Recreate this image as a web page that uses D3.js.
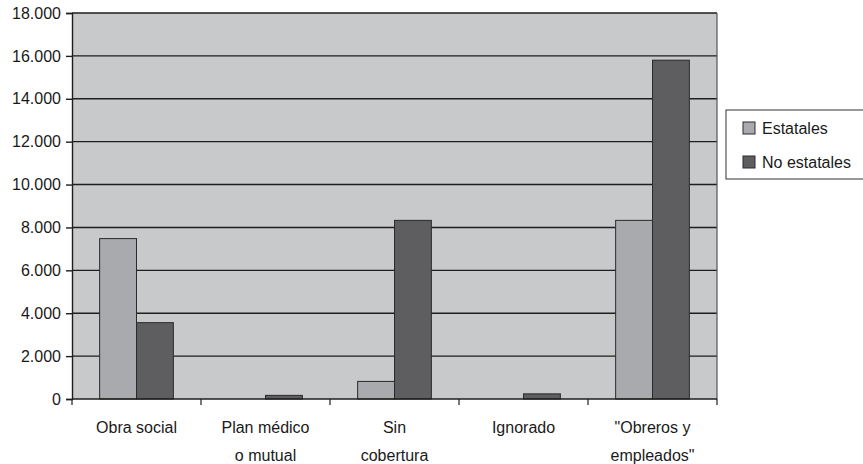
<!DOCTYPE html>
<html>
<head>
<meta charset="utf-8">
<script src="https://cdn.jsdelivr.net/npm/d3@7"></script>
<style>
  html, body { margin: 0; padding: 0; background: #fff; }
  svg { display: block; font-family: "Liberation Sans", Arial, Helvetica, sans-serif; }
</style>
</head>
<body>
<svg id="chart" width="863" height="464"></svg>
<script>
// Coverage categories (x-axis labels, split over two lines)
const categories = ["Obra social", "Plan médico\no mutual", "Sin\ncobertura", "Ignorado", "\"Obreros y\nempleados\""];
const seriesNames = ["Estatales", "No estatales"];
const estatales = [7480, 0, 820, 0, 8330];
const noEstatales = [3560, 170, 8330, 240, 15800];
const yTicks = [0, 2000, 4000, 6000, 8000, 10000, 12000, 14000, 16000, 18000];

const colors = ["#a9aaad", "#5e5e60"];
const FS = 16;
const svg = d3.select("#chart");
const margin = { left: 72, right: 146, top: 13, bottom: 65 };
const W = 863, H = 464;
const x0 = margin.left, x1 = W - margin.right, yTop = margin.top, yBot = H - margin.bottom;

const fmt = v => d3.format(",")(v).replace(/,/g, ".");

const x = d3.scaleBand().domain(categories).range([x0, x1]).paddingInner(0).paddingOuter(0);
const inner = d3.scaleBand().domain(seriesNames).range([0, x.bandwidth()]).paddingInner(0).paddingOuter(0.75);
const y = d3.scaleLinear().domain([0, 18000]).range([yBot, yTop]);

// Plot area background
svg.append("rect").attr("x", x0).attr("y", yTop).attr("width", x1 - x0).attr("height", yBot - yTop)
  .attr("fill", "#c8c9cb");

// Horizontal gridlines
svg.append("g").selectAll("line").data(yTicks.filter(t => t > 0)).join("line")
  .attr("x1", x0).attr("x2", x1).attr("y1", d => y(d)).attr("y2", d => y(d))
  .attr("stroke", "#1e1e1e").attr("stroke-width", 1.4);

// Right border of plot area
svg.append("line").attr("x1", x1).attr("x2", x1).attr("y1", yTop).attr("y2", yBot)
  .attr("stroke", "#555").attr("stroke-width", 1.2);

// Bars
const rows = categories.map((c, i) => ({ cat: c, vals: [estatales[i], noEstatales[i]] }));
const groups = svg.append("g").selectAll("g").data(rows).join("g")
  .attr("transform", d => `translate(${x(d.cat)},0)`);
groups.selectAll("rect").data(d => d.vals.map((v, j) => ({ v, s: seriesNames[j], j })).filter(e => e.v > 0))
  .join("rect")
  .attr("x", d => inner(d.s)).attr("width", inner.bandwidth())
  .attr("y", d => y(d.v)).attr("height", d => yBot - y(d.v))
  .attr("fill", d => colors[d.j]).attr("stroke", "#2a2a2a").attr("stroke-width", 1);

// Y axis
const yAxis = svg.append("g").attr("transform", `translate(${x0},0)`)
  .call(d3.axisLeft(y).tickValues(yTicks).tickFormat(fmt).tickSize(6).tickPadding(5));
yAxis.select(".domain").attr("stroke", "#1e1e1e").attr("stroke-width", 1.4);
yAxis.selectAll(".tick line").attr("stroke", "#1e1e1e").attr("stroke-width", 1.4);
yAxis.selectAll("text").attr("font-size", FS).attr("fill", "#1a1a1a")
  .attr("font-family", "Liberation Sans, Arial, sans-serif");

// X axis baseline and category boundary ticks
svg.append("line").attr("x1", x0).attr("x2", x1).attr("y1", yBot).attr("y2", yBot)
  .attr("stroke", "#1e1e1e").attr("stroke-width", 1.4);
const bounds = categories.map(c => x(c)).concat([x1]);
svg.append("g").selectAll("line").data(bounds).join("line")
  .attr("x1", d => d).attr("x2", d => d).attr("y1", yBot).attr("y2", yBot + 6)
  .attr("stroke", "#1e1e1e").attr("stroke-width", 1.2);

// Category labels
const xl = svg.append("g").selectAll("text").data(categories).join("text")
  .attr("x", d => x(d) + x.bandwidth() / 2).attr("y", 433)
  .attr("text-anchor", "middle").attr("font-size", FS).attr("fill", "#1a1a1a");
xl.each(function (d) {
  const t = d3.select(this);
  d.split("\n").forEach((line, i) => {
    t.append("tspan").attr("x", x(d) + x.bandwidth() / 2).attr("dy", i === 0 ? 0 : 28).text(line);
  });
});

// Legend
const lg = svg.append("g").attr("transform", "translate(726,110)");
lg.append("rect").attr("x", 0).attr("y", 0).attr("width", 140).attr("height", 69)
  .attr("fill", "#fff").attr("stroke", "#333").attr("stroke-width", 1);
seriesNames.forEach((s, i) => {
  const cy = 18 + i * 34;
  lg.append("rect").attr("x", 17).attr("y", cy - 6).attr("width", 12).attr("height", 12)
    .attr("fill", colors[i]).attr("stroke", "#2a2a2a").attr("stroke-width", 1);
  lg.append("text").attr("x", 36).attr("y", cy + 6).attr("font-size", FS).attr("fill", "#1a1a1a").text(s);
});
</script>
</body>
</html>
